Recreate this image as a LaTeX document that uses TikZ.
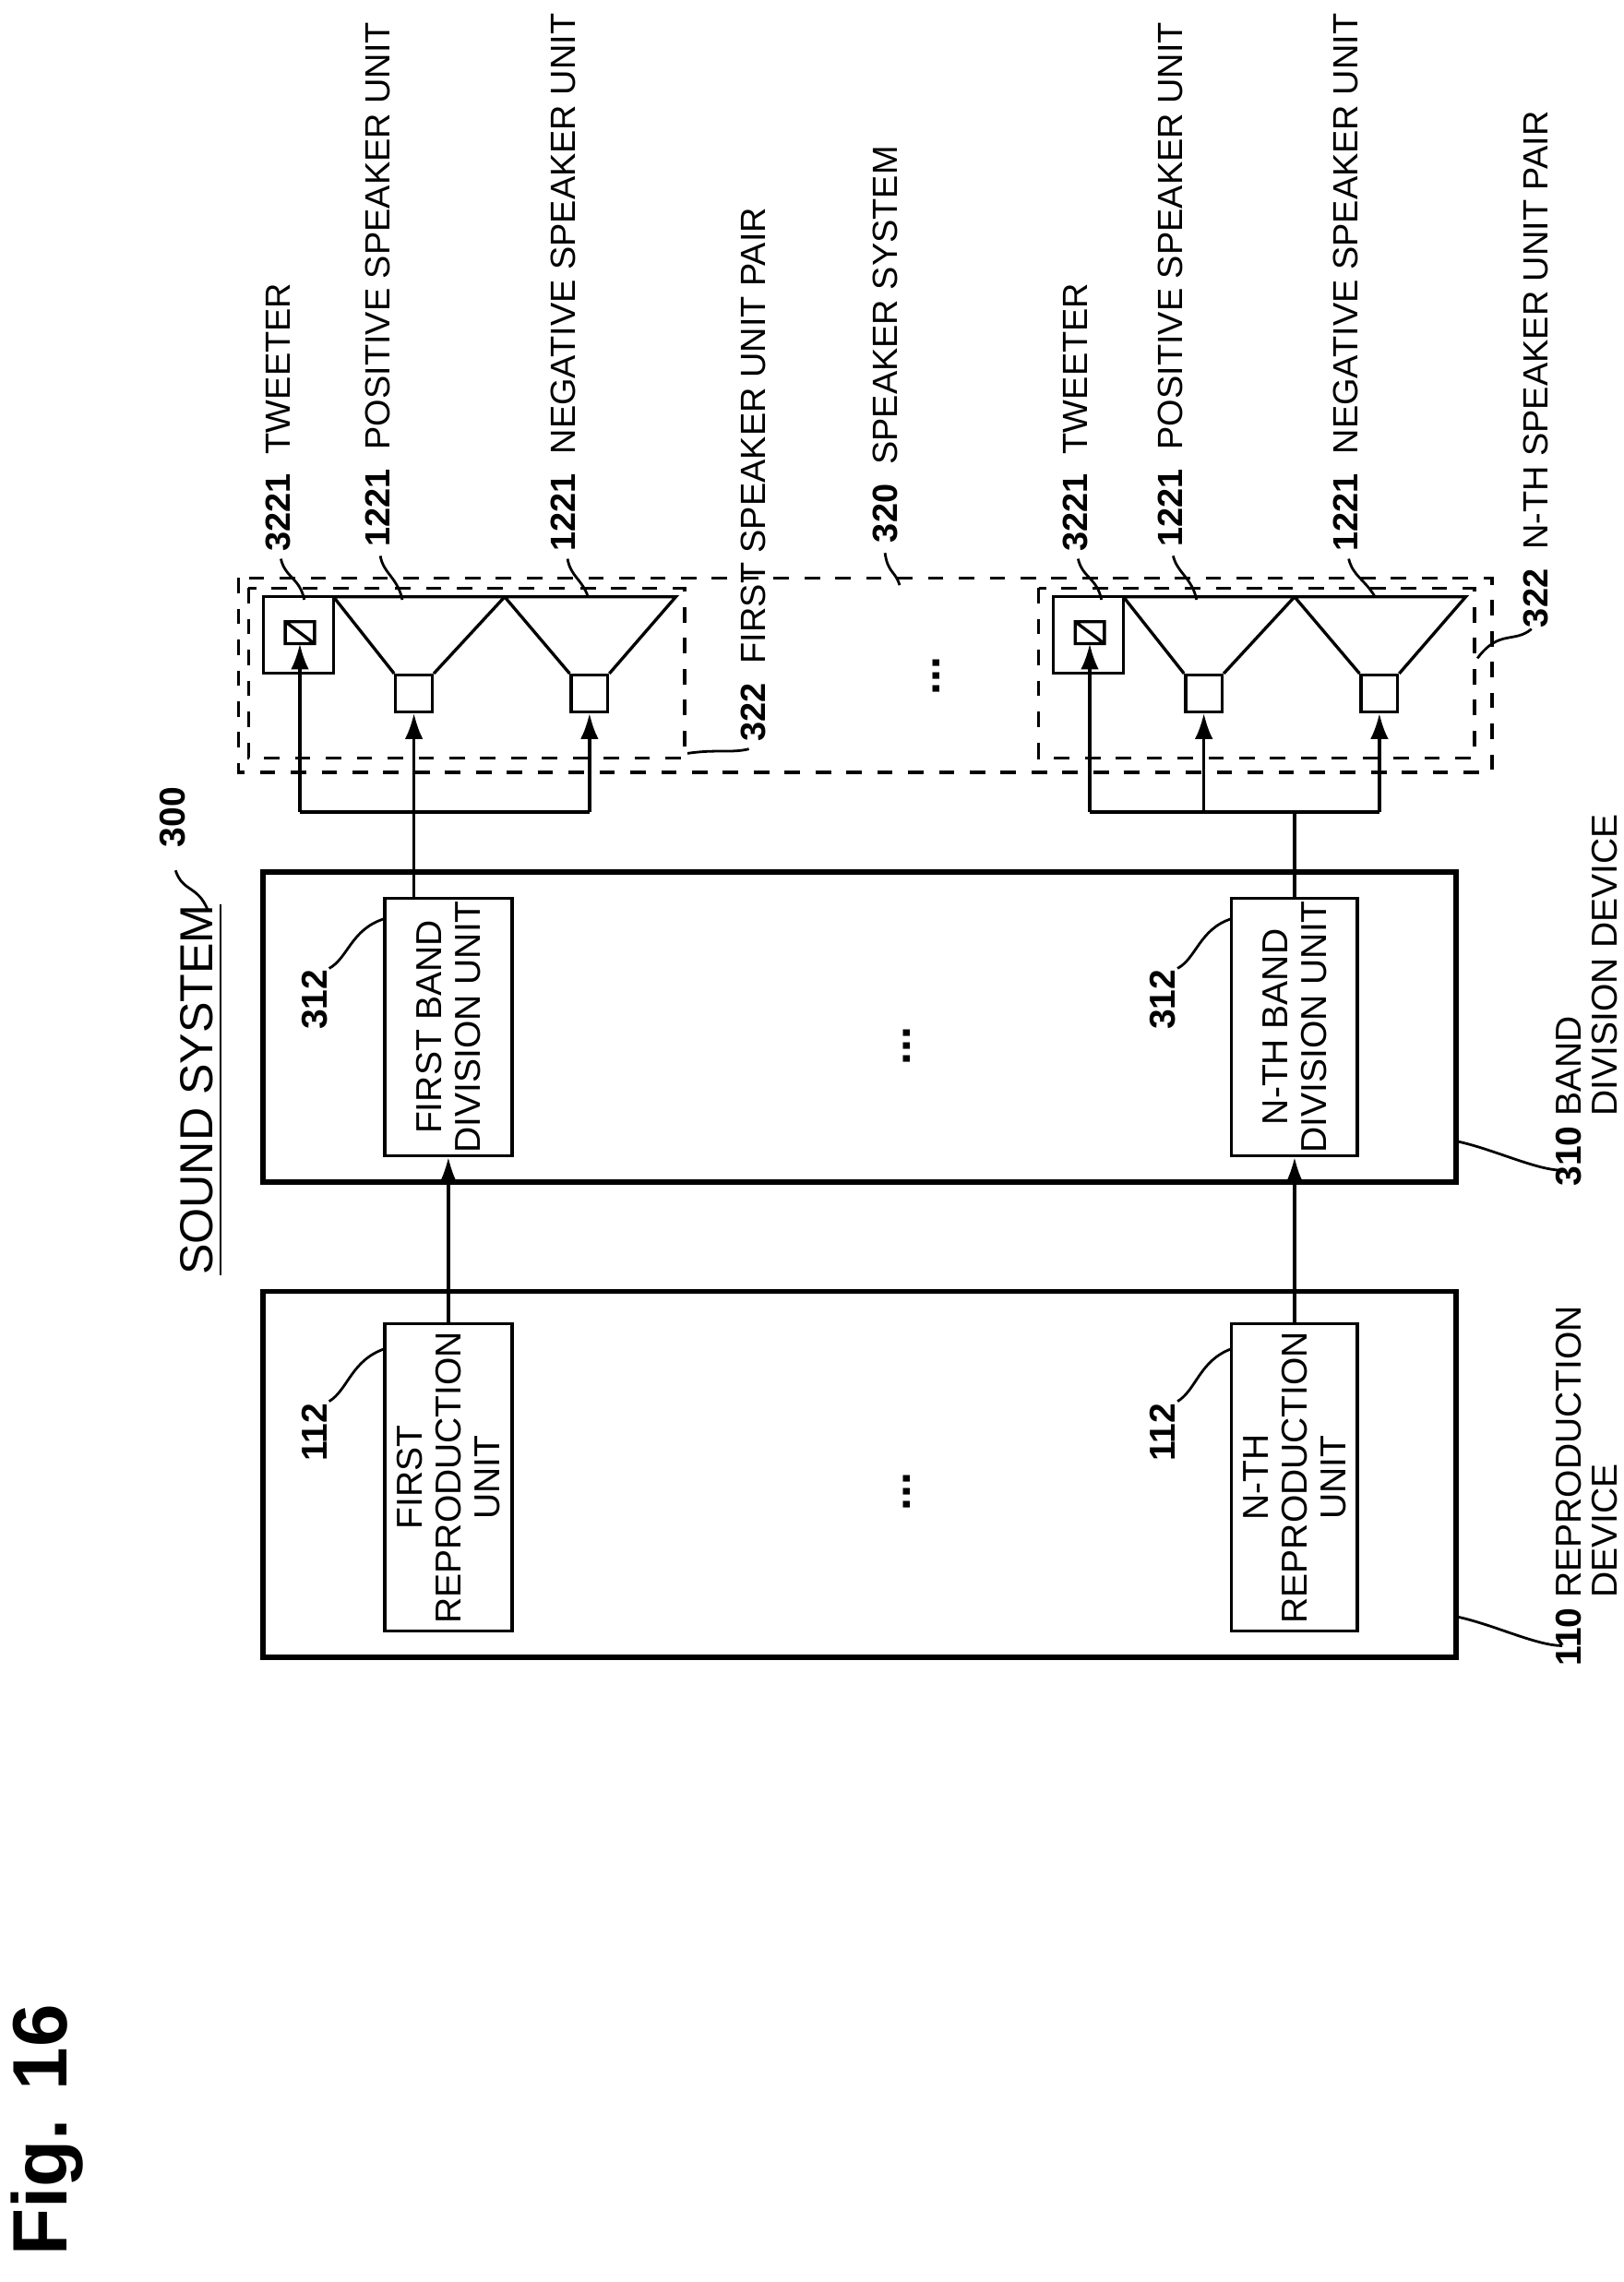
\documentclass[tikz,border=0pt]{standalone}
\usepackage{fontspec}
\setmainfont{Liberation Sans}
\usetikzlibrary{positioning,arrows.meta,calc}
\begin{document}
\begin{tikzpicture}[x=0.01cm,y=-0.01cm,>={Latex[length=5pt,width=3.5pt]},line width=0.6pt,
  box/.style={draw,line width=1pt},
  unit/.style={draw,line width=0.6pt},
  pair/.style={draw,dashed,line width=0.6pt},
  lbl/.style={rotate=90,anchor=west,inner sep=0pt,font=\fontsize{6.8}{8}\selectfont},
  ulbl/.style={rotate=90,align=center,font=\fontsize{7}{7.5}\selectfont},
  lead/.style={line width=0.5pt}]
  \useasboundingbox (0,0) rectangle (1110,1560);

  % title
  \node[rotate=90,anchor=west,font=\fontsize{15}{16}\bfseries] (fig) at (32,1555) {Fig. 16};
  \node[rotate=90,font=\fontsize{9}{10}\selectfont] (sys) at (138,745) {\underline{SOUND SYSTEM}};
  \node[rotate=90,anchor=west,font=\fontsize{7}{8}\bfseries] (n300) at (118,592) {300};
  \draw[lead] (142,622) .. controls (135,605) and (125,610) .. (120,595);

  % reproduction device
  \node[box,minimum width=8.15cm,minimum height=2.5cm] (rep) at (587.5,1008) {};
  \node[unit,minimum width=0.87cm,minimum height=2.1cm] (repA) at (306.5,1010) {};
  \node[ulbl] at (repA) {FIRST\\REPRODUCTION\\UNIT};
  \node[unit,minimum width=0.86cm,minimum height=2.1cm] (repN) at (885,1010) {};
  \node[ulbl] at (repN) {N-TH\\REPRODUCTION\\UNIT};
  \node[rotate=90,font=\bfseries\fontsize{9}{9}\selectfont] (dotsA) at (620,1020) {...};

  % band division device
  \node[box,minimum width=8.15cm,minimum height=2.12cm] (band) at (587.5,702) {};
  \node[unit,minimum width=0.87cm,minimum height=1.76cm] (bandA) at (306.5,702) {};
  \node[ulbl] at (bandA) {FIRST BAND\\DIVISION UNIT};
  \node[unit,minimum width=0.86cm,minimum height=1.76cm] (bandN) at (885,702) {};
  \node[ulbl] at (bandN) {N-TH BAND\\DIVISION UNIT};
  \node[rotate=90,font=\bfseries\fontsize{9}{9}\selectfont] (dotsB) at (620,715) {...};

  \draw[->] (repA.north) -- (bandA.south);
  \draw[->] (repN.north) -- (bandN.south);

  % speaker system
  \draw[pair] (163,395) rectangle (1020,528);
  \node[rotate=90,font=\bfseries\fontsize{9}{9}\selectfont] (dotsC) at (640,462) {...};
  \foreach \s/\o in {A/0,N/540}{
    \begin{scope}[xshift=\o*0.01cm]
      \draw[pair] (170,402) rectangle (468,518);
      \node[unit,minimum width=0.48cm,minimum height=0.52cm] (tw\s) at (204,434) {};
      \draw (195,425) rectangle (215,440) (195,425) -- (215,440);
      \node[unit,minimum size=0.25cm] (pos\s) at (283,474) {};
      \draw (pos\s.north west) -- (228,408) -- (345,408) -- (pos\s.north east);
      \node[unit,minimum size=0.25cm] (neg\s) at (403,474) {};
      \draw (neg\s.north west) -- (345,408) -- (462,408) -- (neg\s.north east);
      \draw (205,555) -- (403,555);
      \draw[->] (205,555) -- (205,440);
      \draw[->] (283,555) -- (pos\s.south);
      \draw[->] (403,555) -- (neg\s.south);
    \end{scope}}
  \coordinate (jnA) at (283,555);
  \coordinate (jnN) at (885,555);
  \draw (bandA.north -| jnA) -- (jnA);
  \draw (bandN.north) -- (jnN);

  % reference labels, top
  \foreach \x/\y/\n/\t in {190/378/3221/TWEETER,258/375/1221/POSITIVE SPEAKER UNIT,
      385/378/1221/NEGATIVE SPEAKER UNIT,515/508/322/FIRST SPEAKER UNIT PAIR,
      605/372/320/SPEAKER SYSTEM,735/378/3221/TWEETER,800/375/1221/POSITIVE SPEAKER UNIT,
      920/378/1221/NEGATIVE SPEAKER UNIT,1050/430/322/N-TH SPEAKER UNIT PAIR}{
    \node[lbl] at (\x,\y) {\textbf{\n}\ \ \t};}
  \draw[lead] (192,382) .. controls (195,395) and (205,395) .. (208,410);
  \draw[lead] (260,380) .. controls (262,392) and (272,395) .. (275,410);
  \draw[lead] (388,382) .. controls (390,394) and (398,396) .. (402,408);
  \draw[lead] (512,512) .. controls (500,515) and (490,512) .. (470,515);
  \draw[lead] (605,378) .. controls (607,392) and (612,390) .. (615,400);
  \draw[lead] (737,382) .. controls (740,395) and (750,395) .. (753,410);
  \draw[lead] (802,380) .. controls (805,392) and (815,395) .. (818,410);
  \draw[lead] (922,382) .. controls (925,394) and (933,396) .. (940,408);
  \draw[lead] (1047,430) .. controls (1035,440) and (1025,430) .. (1010,450);

  % unit labels
  \foreach \x/\y in {215/1000,795/1000}{\node[lbl,font=\bfseries\fontsize{7}{8}\selectfont] at (\x,\y) {112};}
  \foreach \x/\y in {215/705,795/705}{\node[lbl,font=\bfseries\fontsize{7}{8}\selectfont] at (\x,\y) {312};}
  \draw[lead] (225,958) .. controls (238,950) and (240,930) .. (263,922);
  \draw[lead] (805,958) .. controls (818,950) and (820,930) .. (842,922);
  \draw[lead] (225,662) .. controls (238,655) and (240,635) .. (263,628);
  \draw[lead] (805,662) .. controls (818,655) and (820,635) .. (842,628);

  % device labels
  \node[lbl,align=left,font=\fontsize{7}{7}\selectfont] (lrep) at (1085,1140) {\textbf{110} REPRODUCTION\\\phantom{\textbf{110} }DEVICE};
  \node[lbl,align=left,font=\fontsize{7}{7}\selectfont] (lband) at (1085,812) {\textbf{310} BAND\\\phantom{\textbf{310} }DIVISION DEVICE};
  \draw[lead] (1068,1125) .. controls (1050,1125) and (1020,1110) .. (995,1105);
  \draw[lead] (1068,800) .. controls (1050,800) and (1020,785) .. (995,780);
\end{tikzpicture}
\end{document}
